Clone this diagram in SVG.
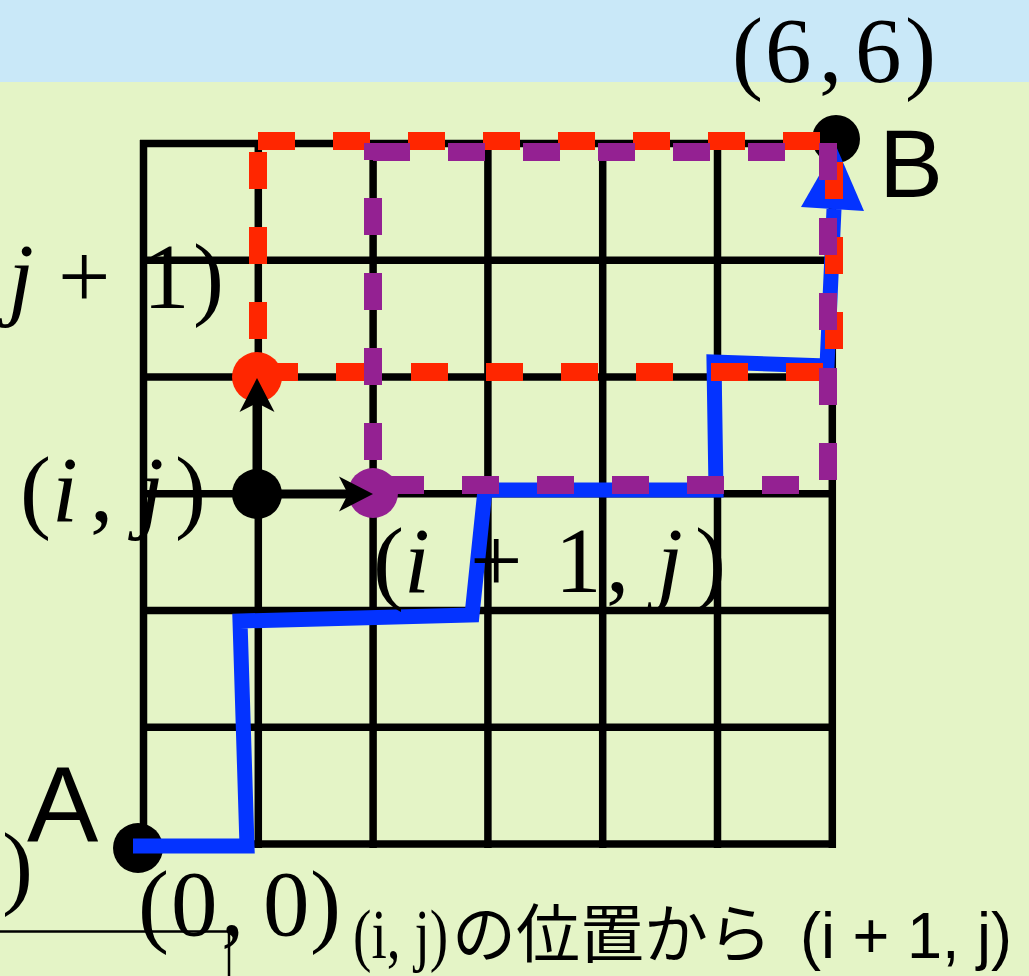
<svg xmlns="http://www.w3.org/2000/svg" width="1029" height="976" viewBox="0 0 1029 976">
<defs>
<style>
.grid line{stroke:#000;stroke-width:7.5}
.m{font-family:"Liberation Serif","Times New Roman",serif;font-size:93px;fill:#000}
.it{font-style:italic}
.sans{font-family:"Liberation Sans",Arial,sans-serif;fill:#000}
.red{stroke:#ff2600;stroke-width:18;stroke-dasharray:37 38;fill:none}
.pur{stroke:#942192;stroke-width:18;stroke-dasharray:37 38;fill:none}
.arr{stroke:#000;stroke-width:9;fill:none;marker-end:url(#ah)}
</style>
<marker id="ah" viewBox="-10 -18 36 36" markerWidth="36" markerHeight="36" refX="0" refY="0" orient="auto" markerUnits="userSpaceOnUse">
<path d="M25,0 L-9,-17.5 L0,0 L-9,17.5 Z" fill="#000"/>
</marker>
</defs>
<rect x="0" y="0" width="1029" height="976" fill="#e4f4c6"/>
<rect x="0" y="0" width="1029" height="82" fill="#c9e8f8"/>
<g id="frame-lines" stroke="#000" stroke-width="2.5" fill="none">
<path d="M0,931.5 H229 V976"/>
</g>
<g id="grid" class="grid">
<line x1="143.5" y1="140" x2="143.5" y2="848"/>
<line x1="258.3" y1="140" x2="258.3" y2="848"/>
<line x1="373.1" y1="140" x2="373.1" y2="848"/>
<line x1="487.9" y1="140" x2="487.9" y2="848"/>
<line x1="602.7" y1="140" x2="602.7" y2="848"/>
<line x1="717.5" y1="140" x2="717.5" y2="848"/>
<line x1="832.3" y1="140" x2="832.3" y2="848"/>
<line x1="140" y1="143.5" x2="836" y2="143.5"/>
<line x1="140" y1="260.3" x2="836" y2="260.3"/>
<line x1="140" y1="377" x2="836" y2="377"/>
<line x1="140" y1="493.8" x2="836" y2="493.8"/>
<line x1="140" y1="610.5" x2="836" y2="610.5"/>
<line x1="140" y1="727.3" x2="836" y2="727.3"/>
<line x1="140" y1="844" x2="836" y2="844"/>
</g>
<g id="nodes">
<g id="node-A"><circle cx="138" cy="848" r="25" fill="#000"/></g>
<g id="node-B"><circle cx="836" cy="139" r="24" fill="#000"/></g>
<g id="node-ij"><circle cx="257" cy="494" r="25" fill="#000"/></g>
<g id="node-ij1"><circle cx="257" cy="377" r="25" fill="#ff2600"/></g>
<g id="node-i1j"><circle cx="373" cy="493" r="25" fill="#942192"/></g>
</g>
<g id="connectors">
<g id="path-AB">
<path d="M133,846 L247,846 L240,621 L472,615 L485,490 L716,490 L714,362 L827,366 L834,209" fill="none" stroke="#0433ff" stroke-width="15" stroke-linejoin="miter" stroke-miterlimit="10"/>
<polygon points="836,146 801,207 864,211" fill="#0433ff"/>
</g>
<g id="rect-red">
<line class="red" x1="258" y1="141" x2="834" y2="141"/>
<line class="red" x1="258" y1="152" x2="258" y2="377"/>
<line class="red" x1="834" y1="162" x2="834" y2="381"/>
<line class="red" x1="261" y1="372" x2="834" y2="372"/>
</g>
<g id="rect-purple">
<line class="pur" x1="373" y1="152" x2="828" y2="152"/>
<line class="pur" x1="373" y1="143" x2="373" y2="470" stroke-dashoffset="20"/>
<line class="pur" x1="828" y1="143" x2="828" y2="485"/>
<line class="pur" x1="387" y1="485" x2="835" y2="485"/>
</g>
<g id="arrows">
<line class="arr" x1="257" y1="494" x2="257" y2="403"/>
<line class="arr" x1="257" y1="494" x2="348" y2="494"/>
</g>
</g>
<g id="labels">
<text id="label-B66" class="m" y="82"><tspan x="732">(</tspan><tspan x="765">6</tspan><tspan x="819">,</tspan><tspan x="855">6</tspan><tspan x="905">)</tspan></text>
<text id="label-ij1" class="m" y="308"><tspan x="8" class="it">j</tspan><tspan x="58">+</tspan><tspan x="143">1</tspan><tspan x="193">)</tspan></text>
<text id="label-ij" class="m" y="521"><tspan x="20">(</tspan><tspan x="52" class="it">i</tspan><tspan x="90">,</tspan><tspan x="138" class="it">j</tspan><tspan x="175">)</tspan></text>
<text id="label-i1j" class="m" y="592"><tspan x="373">(</tspan><tspan x="404" class="it">i</tspan><tspan x="470">+</tspan><tspan x="555">1</tspan><tspan x="606">,</tspan><tspan x="657" class="it">j</tspan><tspan x="695">)</tspan></text>
<text id="label-00" class="m" y="935"><tspan x="138">(</tspan><tspan x="171">0</tspan><tspan x="221">,</tspan><tspan x="263">0</tspan><tspan x="310">)</tspan></text>
<text id="label-paren" class="m" y="897" x="2">)</text>
<text id="label-A" class="sans" x="27" y="842" font-size="107">A</text>
<text id="label-Bname" class="sans" x="879" y="197" font-size="96">B</text>
<text id="caption-1" transform="translate(353,958) scale(0.79,1)" x="0" y="0" font-family="Liberation Serif, serif" font-size="70">(i, j)</text>
<text id="caption-2" x="452" y="957" font-family="Noto Sans CJK JP, sans-serif" font-size="64">の位置から</text>
<text id="caption-3" x="800" y="958" class="sans" font-size="64" textLength="212" lengthAdjust="spacingAndGlyphs">(i + 1, j)</text>
</g>
</svg>
